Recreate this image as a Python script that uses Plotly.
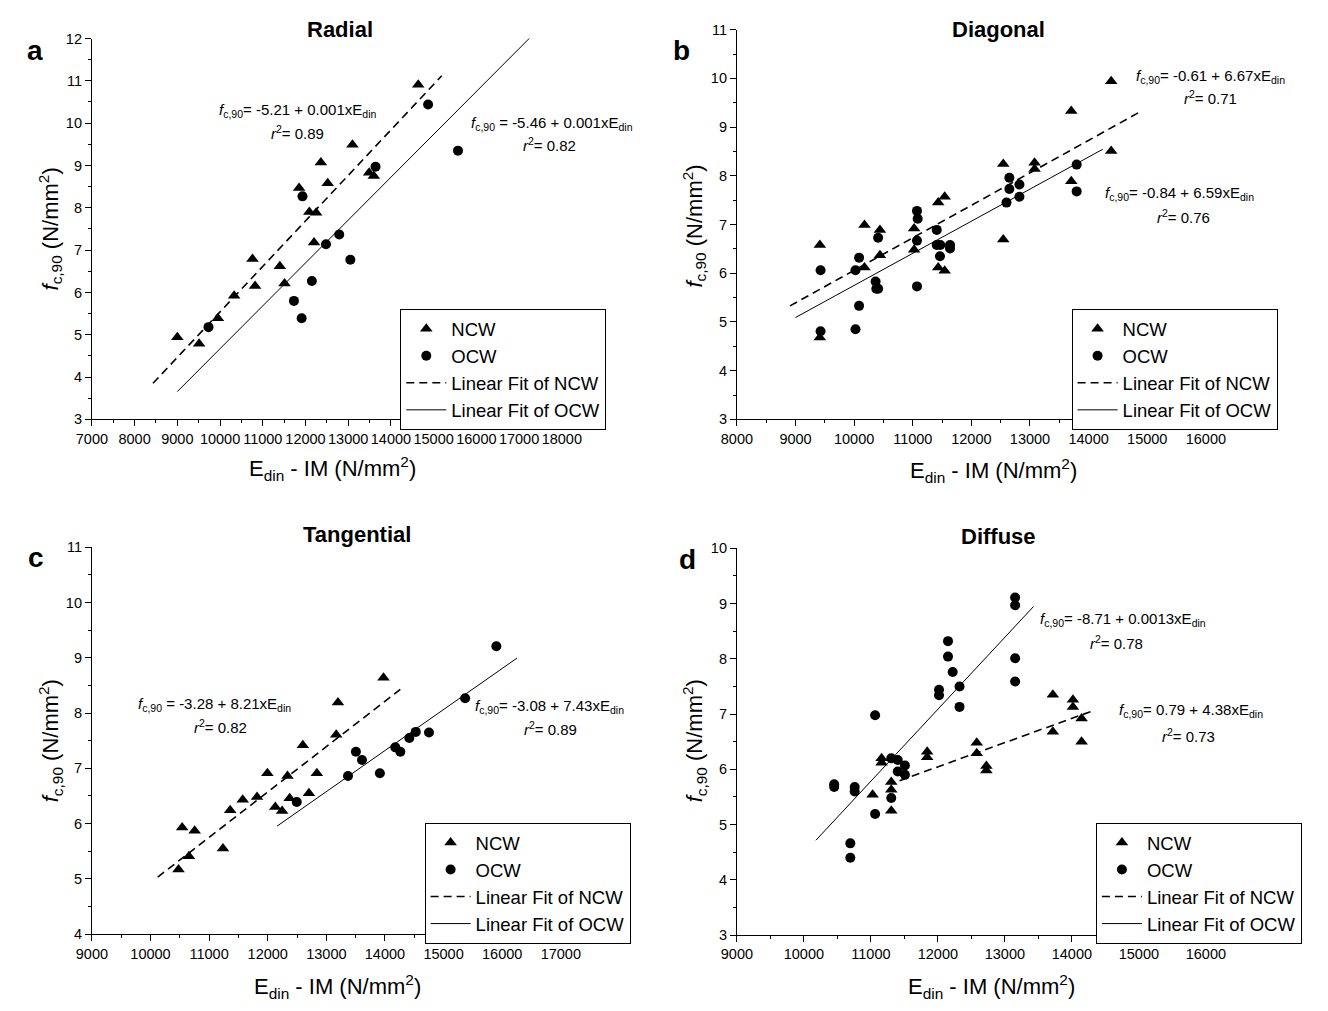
import plotly.graph_objects as go

W, H = 1328, 1011

# ---------------- data ----------------
# Panel a - Radial
a_ncw_x = [9000, 9510, 9950, 10330, 10760, 10820, 11400, 11510, 11850, 12090, 12250, 12200, 12360, 12520, 13100, 13490, 13600, 14640]
a_ncw_y = [4.94, 4.79, 5.39, 5.92, 6.79, 6.15, 6.62, 6.21, 8.47, 7.90, 7.88, 7.18, 9.07, 8.58, 9.49, 8.83, 8.75, 10.91]
a_ocw_x = [9730, 11930, 11730, 11910, 12150, 12480, 12790, 13050, 13640, 14870, 15570]
a_ocw_y = [5.18, 8.27, 5.80, 5.39, 6.27, 7.14, 7.37, 6.77, 8.97, 10.44, 9.35]
a_fit_ncw = dict(x=[8430, 15190], b0=-5.21, b1=0.001075)
a_fit_ocw = dict(x=[9000, 17460], b0=-5.46, b1=0.001013)

# Panel b - Diagonal
b_ncw_x = [9415, 9415, 10176, 10176, 10440, 10440, 11023, 11023, 11434, 11544, 11434, 11544, 12544, 12544, 13078, 13078, 13704, 13704, 14385, 14385]
b_ncw_y = [6.58, 4.68, 6.99, 6.12, 6.89, 6.37, 6.92, 6.48, 7.45, 7.57, 6.12, 6.05, 8.24, 6.69, 8.27, 8.14, 9.33, 7.89, 9.94, 8.51]
b_ocw_x = [9427, 9427, 10023, 10023, 10084, 10084, 10366, 10378, 10409, 10409, 11072, 11084, 11072, 11072, 11409, 11409, 11470, 11464, 11636, 11636, 12599, 12648, 12648, 12820, 12820, 13796, 13796]
b_ocw_y = [6.06, 4.81, 6.06, 4.85, 6.32, 5.33, 5.83, 5.68, 5.68, 6.73, 7.28, 7.12, 6.67, 5.73, 6.89, 6.58, 6.58, 6.35, 6.58, 6.51, 7.45, 7.96, 7.73, 7.82, 7.57, 8.23, 7.68]
b_fit_ncw = dict(x=[8906, 14903], b0=-0.61, b1=6.67e-4)
b_fit_ocw = dict(x=[9000, 14240], b0=-0.84, b1=6.59e-4)

# Panel c - Tangential
c_ncw_x = [10478, 10540, 10753, 10656, 11236, 11359, 11573, 11817, 11994, 12129, 12245, 12337, 12374, 12599, 12703, 12838, 13168, 13198, 13975]
c_ncw_y = [5.17, 5.93, 5.87, 5.41, 5.55, 6.24, 6.43, 6.48, 6.91, 6.30, 6.23, 6.86, 6.46, 7.42, 6.55, 6.91, 7.61, 8.19, 8.64]
c_ocw_x = [12495, 13369, 13504, 13608, 13913, 14176, 14262, 14415, 14525, 14751, 15368, 15900]
c_ocw_y = [6.39, 6.86, 7.30, 7.15, 6.91, 7.38, 7.30, 7.55, 7.66, 7.65, 8.27, 9.21]
c_fit_ncw = dict(x=[10123, 14262], b0=-3.28, b1=8.21e-4)
c_fit_ocw = dict(x=[12159, 16254], b0=-3.08, b1=7.43e-4)

# Panel d - Diffuse
d_ncw_x = [11160, 11160, 11026, 11304, 11304, 11304, 11840, 11840, 12580, 12580, 12724, 12724, 13716, 13716, 14016, 14016, 14145, 14145]
d_ncw_y = [6.20, 6.12, 5.54, 5.77, 5.63, 5.25, 6.32, 6.22, 6.48, 6.29, 6.06, 5.98, 7.35, 6.68, 7.26, 7.13, 6.92, 6.50]
d_ocw_x = [10452, 10452, 10758, 10758, 10693, 10693, 11063, 11063, 11304, 11304, 11401, 11401, 11508, 11508, 12017, 12017, 12151, 12151, 12221, 12323, 12323, 13153, 13153, 13153, 13153]
d_ocw_y = [5.73, 5.68, 5.68, 5.60, 4.66, 4.40, 6.98, 5.19, 6.20, 5.48, 6.17, 5.96, 6.07, 5.90, 7.44, 7.34, 8.32, 8.04, 7.76, 7.50, 7.13, 9.11, 8.97, 8.01, 7.59]
d_fit_ncw = dict(x=[11428, 14348], b0=0.79, b1=4.38e-4)
d_fit_ocw = dict(x=[10179, 13427], b0=-8.54, b1=1.3023e-3)

titles = ["Radial", "Diagonal", "Tangential", "Diffuse"]
letters = ["a", "b", "c", "d"]
x_ranges = [[7000, 18000], [8000, 16000], [9000, 17000], [9000, 16000]]
y_ranges = [[3, 12], [3, 11], [4, 11], [3, 10]]

eq_ncw = ["<i>f</i><sub>c,90</sub>= -5.21 + 0.001xE<sub>din</sub>",
          "<i>f</i><sub>c,90</sub>= -0.61 + 6.67xE<sub>din</sub>",
          "<i>f</i><sub>c,90</sub> = -3.28 + 8.21xE<sub>din</sub>",
          "<i>f</i><sub>c,90</sub>= 0.79 + 4.38xE<sub>din</sub>"]
r2_ncw = ["0.89", "0.71", "0.82", "0.73"]
eq_ocw = ["<i>f</i><sub>c,90</sub> = -5.46 + 0.001xE<sub>din</sub>",
          "<i>f</i><sub>c,90</sub>= -0.84 + 6.59xE<sub>din</sub>",
          "<i>f</i><sub>c,90</sub>= -3.08 + 7.43xE<sub>din</sub>",
          "<i>f</i><sub>c,90</sub>= -8.71 + 0.0013xE<sub>din</sub>"]
r2_ocw = ["0.82", "0.76", "0.89", "0.78"]

# ---------------- layout geometry (pixels) ----------------
FONT = "Liberation Sans, Arial, sans-serif"
plot_boxes = [  # left, right, top, bottom
    (78, 561, 31, 418),
    (741, 1223, 22, 418),
    (78, 560, 548, 941),
    (741, 1223, 549, 942),
]
legend_pos = [(395, 306), (1085, 306), (420, 828), (1110, 828)]
title_pos = [(333, 22), (1010, 22), (350, 535), (1010, 537)]
letter_pos = [(20, 43), (684, 43), (21, 558), (690, 560)]
ytitle_pos = [(35, 225), (697, 222), (35, 745), (697, 745)]
xtitle_pos = [(325, 468), (1005, 470), (330, 994), (1003, 994)]
eq_ncw_pos = [(289, 104), (1228, 70), (204, 708), (1208, 714)]
r2_ncw_pos = [(289, 126), (1228, 91), (210, 730), (1205, 739)]
eq_ocw_pos = [(551, 117), (1196, 188), (548, 710), (1138, 621)]
r2_ocw_pos = [(548, 139), (1200, 212), (549, 732), (1131, 645)]


def px(x):
    return x / W


def py(y):
    return 1 - y / H


fig = go.Figure()

panels = [
    (a_ncw_x, a_ncw_y, a_ocw_x, a_ocw_y, a_fit_ncw, a_fit_ocw),
    (b_ncw_x, b_ncw_y, b_ocw_x, b_ocw_y, b_fit_ncw, b_fit_ocw),
    (c_ncw_x, c_ncw_y, c_ocw_x, c_ocw_y, c_fit_ncw, c_fit_ocw),
    (d_ncw_x, d_ncw_y, d_ocw_x, d_ocw_y, d_fit_ncw, d_fit_ocw),
]

annotations = []
layout_axes = {}
for i, (nx, ny, ox, oy, fn, fo) in enumerate(panels):
    k = "" if i == 0 else str(i + 1)
    xa, ya = "x" + k, "y" + k
    leg = "legend" + k
    fig.add_trace(go.Scatter(x=nx, y=ny, mode="markers", name="NCW", xaxis=xa, yaxis=ya, legend=leg,
                             marker=dict(symbol="triangle-up", size=11, color="black")))
    fig.add_trace(go.Scatter(x=ox, y=oy, mode="markers", name="OCW", xaxis=xa, yaxis=ya, legend=leg,
                             marker=dict(symbol="circle", size=10, color="black")))
    fig.add_trace(go.Scatter(x=fn["x"], y=[fn["b0"] + fn["b1"] * v for v in fn["x"]], mode="lines",
                             name="Linear Fit of NCW", xaxis=xa, yaxis=ya, legend=leg,
                             line=dict(color="black", width=1.6, dash="8px,5px")))
    fig.add_trace(go.Scatter(x=fo["x"], y=[fo["b0"] + fo["b1"] * v for v in fo["x"]], mode="lines",
                             name="Linear Fit of OCW", xaxis=xa, yaxis=ya, legend=leg,
                             line=dict(color="black", width=1)))

    l, r, t, b = plot_boxes[i]
    common = dict(showline=True, linecolor="black", linewidth=1, ticks="outside", ticklen=6, tickwidth=1,
                  tickcolor="black", showgrid=False, zeroline=False, mirror=False,
                  tickfont=dict(family=FONT, size=14.5, color="black"))
    layout_axes["xaxis" + k] = dict(common, domain=[px(l), px(r)], range=x_ranges[i], anchor=ya,
                                    dtick=1000, tick0=0, tickangle=0, tickformat="d",
                                    minor=dict(ticks="outside", ticklen=3, tickcolor="black", dtick=500, showgrid=False))
    layout_axes["yaxis" + k] = dict(common, domain=[py(b), py(t)], range=y_ranges[i], anchor=xa,
                                    dtick=1, tick0=0,
                                    minor=dict(ticks="outside", ticklen=3, tickcolor="black", dtick=0.5, showgrid=False))
    lx, ly = legend_pos[i]
    layout_axes[leg] = dict(x=px(lx), y=py(ly), xanchor="left", yanchor="top", bgcolor="white",
                            bordercolor="black", borderwidth=1, font=dict(family=FONT, size=18.5, color="black"),
                            traceorder="normal", itemwidth=40, tracegroupgap=0)

    def ann(text, pos, size, **kw):
        d = dict(text=text, x=px(pos[0]), y=py(pos[1]), xref="paper", yref="paper", showarrow=False,
                 xanchor="center", yanchor="middle", font=dict(family=FONT, size=size, color="black"))
        d.update(kw)
        annotations.append(d)

    ann("<b>" + titles[i] + "</b>", title_pos[i], 22)
    ann("<b>" + letters[i] + "</b>", letter_pos[i], 28)
    ann("<i>f</i><sub>c,90</sub> (N/mm<sup>2</sup>)", ytitle_pos[i], 22, textangle=-90)
    ann("E<sub>din</sub> - IM (N/mm<sup>2</sup>)", xtitle_pos[i], 22)
    ann(eq_ncw[i], eq_ncw_pos[i], 15)
    ann("<i>r</i><sup>2</sup>= " + r2_ncw[i], r2_ncw_pos[i], 15)
    ann(eq_ocw[i], eq_ocw_pos[i], 15)
    ann("<i>r</i><sup>2</sup>= " + r2_ocw[i], r2_ocw_pos[i], 15)

fig.update_layout(width=W, height=H, margin=dict(l=0, r=0, t=0, b=0), paper_bgcolor="white",
                  plot_bgcolor="white", font=dict(family=FONT, color="black"), annotations=annotations,
                  **layout_axes)
fig.write_html("out.html", config={"displayModeBar": False},
               post_script="document.body.style.margin='0px';")
